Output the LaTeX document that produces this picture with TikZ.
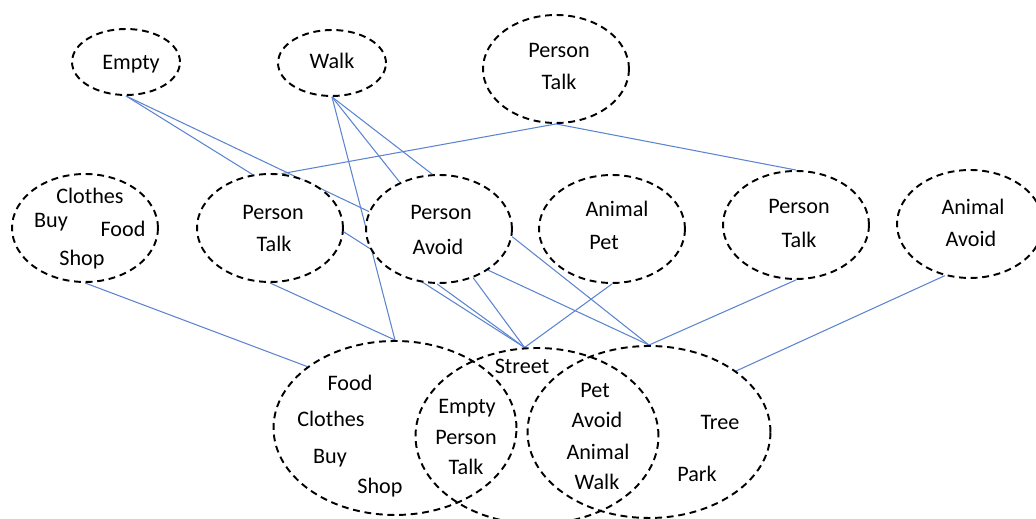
\documentclass[tikz,border=0pt]{standalone}
\usepackage{fontspec}
\setmainfont{Carlito}
\usepackage{xcolor}
\usepackage{tikz}
\usetikzlibrary{shapes.geometric, backgrounds}
\definecolor{linkblue}{RGB}{92,132,208}
\tikzstyle{blob} = [ellipse, draw, dash pattern=on 3.9pt off 2.7pt, line width=1.1pt, inner sep=0pt, fill=white]
\tikzstyle{small blob} = [blob, minimum width=2.16cm, minimum height=1.32cm]
\tikzstyle{mid blob} = [blob, minimum width=2.92cm, minimum height=2.16cm]
\tikzstyle{big blob} = [blob, fill=none, minimum width=4.86cm, minimum height=3.48cm]
\tikzstyle{word} = [inner sep=0pt, anchor=base, yshift=-0.14cm, font=\fontsize{12.6}{15}\selectfont]
\tikzstyle{link} = [draw, linkblue, line width=0.6pt]

\begin{document}
\begin{tikzpicture}[x=0.02cm, y=-0.02cm]
    \useasboundingbox (0,0) rectangle (1036,519);

    % Top row
    \node (emp) [small blob] at (126,62) {};
    \node (wlk) [small blob] at (332,63) {};
    \node (ptt) [mid blob] at (556,69) {};

    % Middle row
    \node (shop) [mid blob] at (85,228) {};
    \node (ptl) [mid blob] at (270,228) {};
    \node (pav) [mid blob] at (439,229) {};
    \node (apt) [mid blob] at (612,229) {};
    \node (ptr) [mid blob] at (796,225) {};
    \node (aav) [mid blob] at (970,224) {};

    % Bottom sets
    \node (shopset) [big blob] at (395,428) {};
    \node (streetset) [big blob, minimum height=3.52cm] at (537,436) {};
    \node (parkset) [big blob, minimum height=3.44cm] at (649,432) {};

    % Words
    \foreach \x/\y/\w [count=\i] in {131/63/Empty, 332/62/Walk, 559/51/Person, 559/83/Talk,
        90/197/Clothes, 51/221/Buy, 123/230/Food, 82/259/Shop,
        273/213/Person, 274/245/Talk, 441/213/Person, 438/248/Avoid,
        617/210/Animal, 604/243/Pet, 799/207/Person, 799/241/Talk,
        973/208/Animal, 971/240/Avoid,
        350/384/Food, 331/420/Clothes, 330/457/Buy, 380/487/Shop,
        522/367/Street, 467/407/Empty, 466/438/Person, 466/468/Talk,
        595/391/Pet, 597/421/Avoid, 598/453/Animal, 597/483/Walk,
        720/423/Tree, 697/475/Park}
        \node (w\i) [word] at (\x,\y) {\w};

    % Links
    \begin{scope}[on background layer]
        \draw [link] (emp.south) -- (ptl.108);
        \draw [link] (emp.south) -- (pav.166);
        \draw [link] (wlk.south) -- (pav.130);
        \draw [link] (wlk.south) -- (pav.97);
        \draw [link] (wlk.south) -- (shopset.north);
        \draw [link] (ptt.south) -- (ptl.78);
        \draw [link] (ptt.south) -- (ptr.north);
        \draw [link] (shop.south) -- (shopset.145);
        \draw [link] (ptl.south) -- (shopset.north);
        \draw [link] (ptl.-3) -- (streetset.98);
        \draw [link] (pav.268) -- (streetset.98);
        \draw [link] (pav.-55) -- (streetset.98);
        \draw [link] (apt.south) -- (streetset.98);
        \draw [link] (pav.-40) -- (parkset.north);
        \draw [link] (pav.-6) -- (parkset.north);
        \draw [link] (ptr.south) -- (parkset.north);
        \draw [link] (aav.-116) -- (parkset.35);
    \end{scope}
\end{tikzpicture}
\end{document}
